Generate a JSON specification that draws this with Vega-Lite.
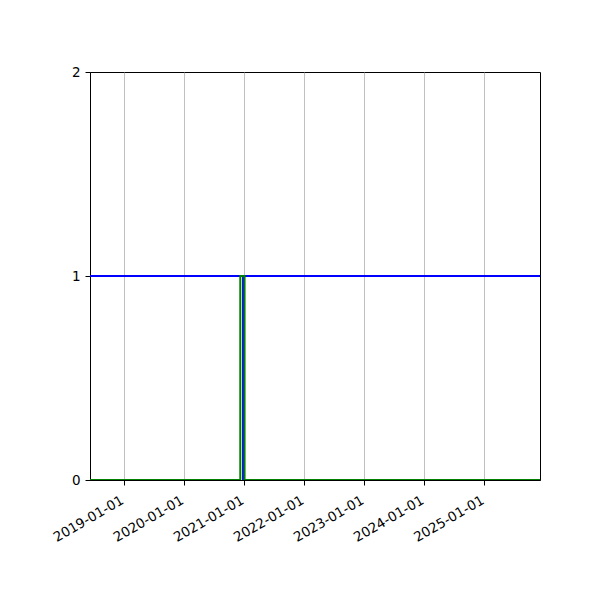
{
  "$schema": "https://vega.github.io/schema/vega-lite/v6.json",
  "width": 450,
  "height": 408,
  "autosize": "none",
  "padding": {"left": 90, "top": 72, "right": 60, "bottom": 120},
  "background": "white",
  "config": {
    "font": "DejaVu Sans",
    "view": {"stroke": "black", "strokeWidth": 1},
    "axis": {
      "domainColor": "black",
      "tickColor": "black",
      "labelColor": "black",
      "labelFontSize": 13.5,
      "tickSize": 5,
      "labelPadding": 4,
      "labelOverlap": false,
      "labelFlush": false,
      "title": null
    }
  },
  "data": {
    "values": [
      {"series": "a", "date": "2018-06-10", "value": 1},
      {"series": "a", "date": "2020-12-27", "value": 0},
      {"series": "a", "date": "2021-01-01", "value": 1},
      {"series": "a", "date": "2025-12-07", "value": 1},
      {"series": "b", "date": "2018-06-10", "value": 0},
      {"series": "b", "date": "2020-12-10", "value": 1},
      {"series": "b", "date": "2021-01-05", "value": 0},
      {"series": "b", "date": "2025-12-07", "value": 0}
    ]
  },
  "mark": {"type": "line", "interpolate": "step-after", "strokeWidth": 2, "clip": true},
  "encoding": {
    "x": {
      "field": "date",
      "type": "temporal",
      "scale": {
        "type": "utc",
        "domain": [
          {"year": 2018, "month": 6, "date": 10, "utc": true},
          {"year": 2025, "month": 12, "date": 7, "utc": true}
        ]
      },
      "axis": {
        "values": [
          {"year": 2019, "month": 1, "date": 1, "utc": true},
          {"year": 2020, "month": 1, "date": 1, "utc": true},
          {"year": 2021, "month": 1, "date": 1, "utc": true},
          {"year": 2022, "month": 1, "date": 1, "utc": true},
          {"year": 2023, "month": 1, "date": 1, "utc": true},
          {"year": 2024, "month": 1, "date": 1, "utc": true},
          {"year": 2025, "month": 1, "date": 1, "utc": true}
        ],
        "format": "%Y-%m-%d",
        "labelAngle": -30,
        "labelAlign": "right",
        "labelBaseline": "top",
        "labelOffset": -5,
        "labelPadding": 8,
        "grid": true,
        "gridColor": "#b0b0b0",
        "gridWidth": 0.8
      }
    },
    "y": {
      "field": "value",
      "type": "quantitative",
      "scale": {"domain": [0, 2], "nice": false, "zero": true},
      "axis": {"values": [0, 1, 2], "tickCount": 3, "format": ".0f", "grid": false, "labelOverlap": false, "labelPadding": 5}
    },
    "color": {
      "field": "series",
      "type": "nominal",
      "scale": {"domain": ["a", "b"], "range": ["#0000ff", "#008000"]},
      "legend": null
    }
  }
}
